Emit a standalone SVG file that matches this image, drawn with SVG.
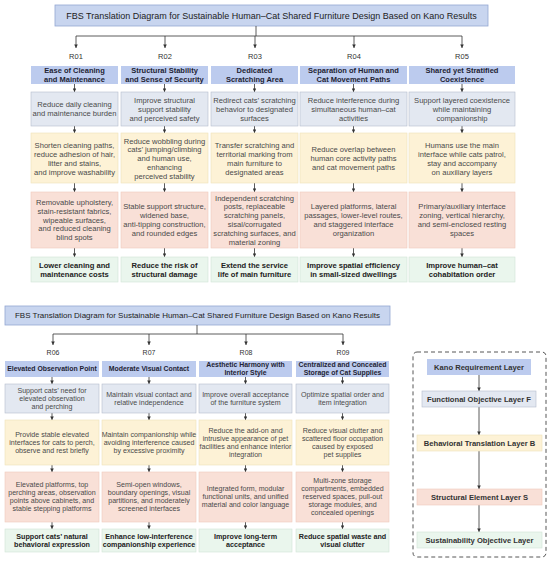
<svg xmlns="http://www.w3.org/2000/svg" width="550" height="561" viewBox="0 0 550 561">
<style>
text{font-family:"Liberation Sans",Arial,sans-serif;text-anchor:middle}
.ti{fill:#c8d5ef;stroke:#93a7d3;stroke-width:0.8}
.hd{fill:#bccbee}
.fn{fill:#e3e8f1;stroke:#b5bdcc;stroke-width:0.6}
.bh{fill:#fdf2d6;stroke:#efe1b8;stroke-width:0.6}
.st{fill:#f9e0d7;stroke:#efcabc;stroke-width:0.6}
.gr{fill:#eaf6ed;stroke:#cfe4d5;stroke-width:0.6}
.tt{font-size:9px;fill:#222}
.tt2{font-size:8px;fill:#222}
.rl{font-size:7.5px;fill:#333}
.rl2{font-size:7px;fill:#333}
.th{font-size:7.5px;font-weight:bold;fill:#1e2333}
.tb{font-size:7.6px;fill:#4a4a4a}
.tg{font-size:7.6px;font-weight:bold;fill:#222}
.bhx{font-size:6.9px;font-weight:bold;fill:#1e2333}
.bb{font-size:7.1px;fill:#4a4a4a}
.bg{font-size:7.2px;font-weight:bold;fill:#222}
.lg{font-size:7.6px;font-weight:bold;fill:#333}
.cn line,.cn path{stroke:#333;stroke-width:0.8;fill:none}
.ar{marker-end:url(#ah)}
</style>
<defs>
<marker id="ah" viewBox="0 0 6 6" refX="6" refY="3" markerWidth="3.6" markerHeight="3.6" orient="auto" markerUnits="userSpaceOnUse"><path d="M0,0 L6,3 L0,6 z" fill="#333"/></marker>
</defs>

<!-- ============ TOP DIAGRAM ============ -->
<g id="title-top"><rect class="ti" x="55" y="5" width="433" height="21"/><text class="tt" x="271.5" y="18.6">FBS Translation Diagram for Sustainable Human–Cat Shared Furniture Design Based on Kano Results</text></g>

<g id="connectors-top" class="cn">
<line x1="256" y1="26" x2="256" y2="36"/>
<line x1="76" y1="36" x2="462" y2="36"/>
<line class="ar" x1="76" y1="36" x2="76" y2="48"/>
<line class="ar" x1="165" y1="36" x2="165" y2="48"/>
<line class="ar" x1="255" y1="36" x2="255" y2="48"/>
<line class="ar" x1="354" y1="36" x2="354" y2="48"/>
<line class="ar" x1="462" y1="36" x2="462" y2="48"/>
<line class="ar" x1="74.5" y1="84" x2="74.5" y2="92"/><line class="ar" x1="74.5" y1="126" x2="74.5" y2="133"/><line class="ar" x1="74.5" y1="183" x2="74.5" y2="192"/><line class="ar" x1="74.5" y1="248" x2="74.5" y2="257"/>
<line class="ar" x1="164.5" y1="84" x2="164.5" y2="92"/><line class="ar" x1="164.5" y1="126" x2="164.5" y2="133"/><line class="ar" x1="164.5" y1="183" x2="164.5" y2="192"/><line class="ar" x1="164.5" y1="248" x2="164.5" y2="257"/>
<line class="ar" x1="254.5" y1="84" x2="254.5" y2="92"/><line class="ar" x1="254.5" y1="126" x2="254.5" y2="133"/><line class="ar" x1="254.5" y1="183" x2="254.5" y2="192"/><line class="ar" x1="254.5" y1="248" x2="254.5" y2="257"/>
<line class="ar" x1="353.5" y1="84" x2="353.5" y2="92"/><line class="ar" x1="353.5" y1="126" x2="353.5" y2="133"/><line class="ar" x1="353.5" y1="183" x2="353.5" y2="192"/><line class="ar" x1="353.5" y1="248" x2="353.5" y2="257"/>
<line class="ar" x1="462" y1="84" x2="462" y2="92"/><line class="ar" x1="462" y1="126" x2="462" y2="133"/><line class="ar" x1="462" y1="183" x2="462" y2="192"/><line class="ar" x1="462" y1="248" x2="462" y2="257"/>
</g>

<g id="labels-top">
<text class="rl" x="76" y="59">R01</text>
<text class="rl" x="165" y="59">R02</text>
<text class="rl" x="255" y="59">R03</text>
<text class="rl" x="354" y="59">R04</text>
<text class="rl" x="462" y="59">R05</text>
</g>

<!-- R01 -->
<g id="r01-h"><rect class="hd" x="31" y="66" width="87" height="18"/><text class="th"><tspan x="74.5" y="73.4">Ease of Cleaning</tspan><tspan x="74.5" y="82.4">and Maintenance</tspan></text></g>
<g id="r01-f"><rect class="fn" x="31" y="92" width="87" height="34"/><text class="tb"><tspan x="74.5" y="107.1">Reduce daily cleaning</tspan><tspan x="74.5" y="116.1">and maintenance burden</tspan></text></g>
<g id="r01-b"><rect class="bh" x="31" y="133" width="87" height="50"/><text class="tb"><tspan x="74.5" y="148.4">Shorten cleaning paths,</tspan><tspan x="74.5" y="157.2">reduce adhesion of hair,</tspan><tspan x="74.5" y="166">litter and stains,</tspan><tspan x="74.5" y="174.8">and improve washability</tspan></text></g>
<g id="r01-s"><rect class="st" x="31" y="192" width="87" height="56"/><text class="tb"><tspan x="74.5" y="205">Removable upholstery,</tspan><tspan x="74.5" y="213.8">stain-resistant fabrics,</tspan><tspan x="74.5" y="222.6">wipeable surfaces,</tspan><tspan x="74.5" y="231.4">and reduced cleaning</tspan><tspan x="74.5" y="240.2">blind spots</tspan></text></g>
<g id="r01-g"><rect class="gr" x="31" y="257" width="87" height="25"/><text class="tg"><tspan x="74.5" y="267.6">Lower cleaning and</tspan><tspan x="74.5" y="276.6">maintenance costs</tspan></text></g>

<!-- R02 -->
<g id="r02-h"><rect class="hd" x="121" y="66" width="87" height="18"/><text class="th"><tspan x="164.5" y="73.4">Structural Stability</tspan><tspan x="164.5" y="82.4">and Sense of Security</tspan></text></g>
<g id="r02-f"><rect class="fn" x="121" y="92" width="87" height="34"/><text class="tb"><tspan x="164.5" y="102.6">Improve structural</tspan><tspan x="164.5" y="111.6">support stability</tspan><tspan x="164.5" y="120.6">and perceived safety</tspan></text></g>
<g id="r02-b"><rect class="bh" x="121" y="133" width="87" height="50"/><text class="tb"><tspan x="164.5" y="143.5">Reduce wobbling during</tspan><tspan x="164.5" y="152.3">cats’ jumping/climbing</tspan><tspan x="164.5" y="161.1">and human use,</tspan><tspan x="164.5" y="169.9">enhancing</tspan><tspan x="164.5" y="178.7">perceived stability</tspan></text></g>
<g id="r02-s"><rect class="st" x="121" y="192" width="87" height="56"/><text class="tb"><tspan x="164.5" y="209.4">Stable support structure,</tspan><tspan x="164.5" y="218.2">widened base,</tspan><tspan x="164.5" y="227">anti-tipping construction,</tspan><tspan x="164.5" y="235.8">and rounded edges</tspan></text></g>
<g id="r02-g"><rect class="gr" x="121" y="257" width="87" height="25"/><text class="tg"><tspan x="164.5" y="267.6">Reduce the risk of</tspan><tspan x="164.5" y="276.6">structural damage</tspan></text></g>

<!-- R03 -->
<g id="r03-h"><rect class="hd" x="211" y="66" width="87" height="18"/><text class="th"><tspan x="254.5" y="73.4">Dedicated</tspan><tspan x="254.5" y="82.4">Scratching Area</tspan></text></g>
<g id="r03-f"><rect class="fn" x="211" y="92" width="87" height="34"/><text class="tb"><tspan x="254.5" y="102.6">Redirect cats’ scratching</tspan><tspan x="254.5" y="111.6">behavior to designated</tspan><tspan x="254.5" y="120.6">surfaces</tspan></text></g>
<g id="r03-b"><rect class="bh" x="211" y="133" width="87" height="50"/><text class="tb"><tspan x="254.5" y="148.4">Transfer scratching and</tspan><tspan x="254.5" y="157.2">territorial marking from</tspan><tspan x="254.5" y="166">main furniture to</tspan><tspan x="254.5" y="174.8">designated areas</tspan></text></g>
<g id="r03-s"><rect class="st" x="211" y="192" width="87" height="56"/><text class="tb"><tspan x="254.5" y="200.6">Independent scratching</tspan><tspan x="254.5" y="209.4">posts, replaceable</tspan><tspan x="254.5" y="218.2">scratching panels,</tspan><tspan x="254.5" y="227">sisal/corrugated</tspan><tspan x="254.5" y="235.8">scratching surfaces, and</tspan><tspan x="254.5" y="244.6">material zoning</tspan></text></g>
<g id="r03-g"><rect class="gr" x="211" y="257" width="87" height="25"/><text class="tg"><tspan x="254.5" y="267.6">Extend the service</tspan><tspan x="254.5" y="276.6">life of main furniture</tspan></text></g>

<!-- R04 -->
<g id="r04-h"><rect class="hd" x="300" y="66" width="107" height="18"/><text class="th"><tspan x="353.5" y="73.4">Separation of Human and</tspan><tspan x="353.5" y="82.4">Cat Movement Paths</tspan></text></g>
<g id="r04-f"><rect class="fn" x="300" y="92" width="107" height="34"/><text class="tb"><tspan x="353.5" y="102.6">Reduce interference during</tspan><tspan x="353.5" y="111.6">simultaneous human–cat</tspan><tspan x="353.5" y="120.6">activities</tspan></text></g>
<g id="r04-b"><rect class="bh" x="300" y="133" width="107" height="50"/><text class="tb"><tspan x="353.5" y="152.3">Reduce overlap between</tspan><tspan x="353.5" y="161.1">human core activity paths</tspan><tspan x="353.5" y="169.9">and cat movement paths</tspan></text></g>
<g id="r04-s"><rect class="st" x="300" y="192" width="107" height="56"/><text class="tb"><tspan x="353.5" y="209.4">Layered platforms, lateral</tspan><tspan x="353.5" y="218.2">passages, lower-level routes,</tspan><tspan x="353.5" y="227">and staggered interface</tspan><tspan x="353.5" y="235.8">organization</tspan></text></g>
<g id="r04-g"><rect class="gr" x="300" y="257" width="107" height="25"/><text class="tg"><tspan x="353.5" y="267.6">Improve spatial efficiency</tspan><tspan x="353.5" y="276.6">in small-sized dwellings</tspan></text></g>

<!-- R05 -->
<g id="r05-h"><rect class="hd" x="409" y="66" width="106" height="18"/><text class="th"><tspan x="462" y="73.4">Shared yet Stratified</tspan><tspan x="462" y="82.4">Coexistence</tspan></text></g>
<g id="r05-f"><rect class="fn" x="409" y="92" width="106" height="34"/><text class="tb"><tspan x="462" y="102.6">Support layered coexistence</tspan><tspan x="462" y="111.6">while maintaining</tspan><tspan x="462" y="120.6">companionship</tspan></text></g>
<g id="r05-b"><rect class="bh" x="409" y="133" width="106" height="50"/><text class="tb"><tspan x="462" y="148.4">Humans use the main</tspan><tspan x="462" y="157.2">interface while cats patrol,</tspan><tspan x="462" y="166">stay and accompany</tspan><tspan x="462" y="174.8">on auxiliary layers</tspan></text></g>
<g id="r05-s"><rect class="st" x="409" y="192" width="106" height="56"/><text class="tb"><tspan x="462" y="209.4">Primary/auxiliary interface</tspan><tspan x="462" y="218.2">zoning, vertical hierarchy,</tspan><tspan x="462" y="227">and semi-enclosed resting</tspan><tspan x="462" y="235.8">spaces</tspan></text></g>
<g id="r05-g"><rect class="gr" x="409" y="257" width="106" height="25"/><text class="tg"><tspan x="462" y="267.6">Improve human–cat</tspan><tspan x="462" y="276.6">cohabitation order</tspan></text></g>

<!-- ============ BOTTOM DIAGRAM ============ -->
<g id="title-bottom"><rect class="ti" x="5" y="306" width="385" height="19"/><text class="tt2" x="197.5" y="318.3">FBS Translation Diagram for Sustainable Human–Cat Shared Furniture Design Based on Kano Results</text></g>

<g id="connectors-bottom" class="cn">
<line x1="197" y1="325" x2="197" y2="334"/>
<line x1="53" y1="334" x2="343" y2="334"/>
<line class="ar" x1="53" y1="334" x2="53" y2="345"/>
<line class="ar" x1="149" y1="334" x2="149" y2="345"/>
<line class="ar" x1="246" y1="334" x2="246" y2="345"/>
<line class="ar" x1="343" y1="334" x2="343" y2="345"/>
<line class="ar" x1="52" y1="377" x2="52" y2="384"/><line class="ar" x1="52" y1="413" x2="52" y2="420"/><line class="ar" x1="52" y1="465" x2="52" y2="472"/><line class="ar" x1="52" y1="522" x2="52" y2="529"/>
<line class="ar" x1="149" y1="377" x2="149" y2="384"/><line class="ar" x1="149" y1="413" x2="149" y2="420"/><line class="ar" x1="149" y1="465" x2="149" y2="472"/><line class="ar" x1="149" y1="522" x2="149" y2="529"/>
<line class="ar" x1="245.5" y1="377" x2="245.5" y2="384"/><line class="ar" x1="245.5" y1="413" x2="245.5" y2="420"/><line class="ar" x1="245.5" y1="465" x2="245.5" y2="472"/><line class="ar" x1="245.5" y1="522" x2="245.5" y2="529"/>
<line class="ar" x1="342.5" y1="377" x2="342.5" y2="384"/><line class="ar" x1="342.5" y1="413" x2="342.5" y2="420"/><line class="ar" x1="342.5" y1="465" x2="342.5" y2="472"/><line class="ar" x1="342.5" y1="522" x2="342.5" y2="529"/>
<line class="ar" x1="479" y1="375" x2="479" y2="391"/>
<line class="ar" x1="479" y1="407" x2="479" y2="435"/>
<line class="ar" x1="479" y1="451" x2="479" y2="489"/>
<line class="ar" x1="479" y1="505" x2="479" y2="532"/>
</g>

<g id="labels-bottom">
<text class="rl2" x="53" y="354.5">R06</text>
<text class="rl2" x="149" y="354.5">R07</text>
<text class="rl2" x="246" y="354.5">R08</text>
<text class="rl2" x="343" y="354.5">R09</text>
</g>

<!-- R06 -->
<g id="r06-h"><rect class="hd" x="5" y="361" width="94" height="16"/><text class="bhx" x="52" y="371.4">Elevated Observation Point</text></g>
<g id="r06-f"><rect class="fn" x="5" y="384" width="94" height="29"/><text class="bb"><tspan x="52" y="392.9">Support cats’ need for</tspan><tspan x="52" y="400.9">elevated observation</tspan><tspan x="52" y="408.9">and perching</tspan></text></g>
<g id="r06-b"><rect class="bh" x="5" y="420" width="94" height="45"/><text class="bb"><tspan x="52" y="436.9">Provide stable elevated</tspan><tspan x="52" y="444.9">interfaces for cats to perch,</tspan><tspan x="52" y="452.9">observe and rest briefly</tspan></text></g>
<g id="r06-s"><rect class="st" x="5" y="472" width="94" height="50"/><text class="bb"><tspan x="52" y="487.4">Elevated platforms, top</tspan><tspan x="52" y="495.4">perching areas, observation</tspan><tspan x="52" y="503.4">points above cabinets, and</tspan><tspan x="52" y="511.4">stable stepping platforms</tspan></text></g>
<g id="r06-g"><rect class="gr" x="5" y="529" width="94" height="23"/><text class="bg"><tspan x="52" y="539">Support cats’ natural</tspan><tspan x="52" y="547.2">behavioral expression</tspan></text></g>

<!-- R07 -->
<g id="r07-h"><rect class="hd" x="102" y="361" width="94" height="16"/><text class="bhx" x="149" y="371.4">Moderate Visual Contact</text></g>
<g id="r07-f"><rect class="fn" x="102" y="384" width="94" height="29"/><text class="bb"><tspan x="149" y="396.9">Maintain visual contact and</tspan><tspan x="149" y="404.9">relative independence</tspan></text></g>
<g id="r07-b"><rect class="bh" x="102" y="420" width="94" height="45"/><text class="bb"><tspan x="149" y="436.9">Maintain companionship while</tspan><tspan x="149" y="444.9">avoiding interference caused</tspan><tspan x="149" y="452.9">by excessive proximity</tspan></text></g>
<g id="r07-s"><rect class="st" x="102" y="472" width="94" height="50"/><text class="bb"><tspan x="149" y="487.4">Semi-open windows,</tspan><tspan x="149" y="495.4">boundary openings, visual</tspan><tspan x="149" y="503.4">partitions, and moderately</tspan><tspan x="149" y="511.4">screened interfaces</tspan></text></g>
<g id="r07-g"><rect class="gr" x="102" y="529" width="94" height="23"/><text class="bg"><tspan x="149" y="539">Enhance low-interference</tspan><tspan x="149" y="547.2">companionship experience</tspan></text></g>

<!-- R08 -->
<g id="r08-h"><rect class="hd" x="199" y="361" width="93" height="16"/><text class="bhx"><tspan x="245.5" y="366.6">Aesthetic Harmony with</tspan><tspan x="245.5" y="374.6">Interior Style</tspan></text></g>
<g id="r08-f"><rect class="fn" x="199" y="384" width="93" height="29"/><text class="bb"><tspan x="245.5" y="396.9">Improve overall acceptance</tspan><tspan x="245.5" y="404.9">of the furniture system</tspan></text></g>
<g id="r08-b"><rect class="bh" x="199" y="420" width="93" height="45"/><text class="bb"><tspan x="245.5" y="432.9">Reduce the add-on and</tspan><tspan x="245.5" y="440.9">intrusive appearance of pet</tspan><tspan x="245.5" y="448.9">facilities and enhance interior</tspan><tspan x="245.5" y="456.9">integration</tspan></text></g>
<g id="r08-s"><rect class="st" x="199" y="472" width="93" height="50"/><text class="bb"><tspan x="245.5" y="491.4">Integrated form, modular</tspan><tspan x="245.5" y="499.4">functional units, and unified</tspan><tspan x="245.5" y="507.4">material and color language</tspan></text></g>
<g id="r08-g"><rect class="gr" x="199" y="529" width="93" height="23"/><text class="bg"><tspan x="245.5" y="539">Improve long-term</tspan><tspan x="245.5" y="547.2">acceptance</tspan></text></g>

<!-- R09 -->
<g id="r09-h"><rect class="hd" x="296" y="361" width="93" height="16"/><text class="bhx"><tspan x="342.5" y="366.6">Centralized and Concealed</tspan><tspan x="342.5" y="374.6">Storage of Cat Supplies</tspan></text></g>
<g id="r09-f"><rect class="fn" x="296" y="384" width="93" height="29"/><text class="bb"><tspan x="342.5" y="396.9">Optimize spatial order and</tspan><tspan x="342.5" y="404.9">item integration</tspan></text></g>
<g id="r09-b"><rect class="bh" x="296" y="420" width="93" height="45"/><text class="bb"><tspan x="342.5" y="432.9">Reduce visual clutter and</tspan><tspan x="342.5" y="440.9">scattered floor occupation</tspan><tspan x="342.5" y="448.9">caused by exposed</tspan><tspan x="342.5" y="456.9">pet supplies</tspan></text></g>
<g id="r09-s"><rect class="st" x="296" y="472" width="93" height="50"/><text class="bb"><tspan x="342.5" y="483.4">Multi-zone storage</tspan><tspan x="342.5" y="491.4">compartments, embedded</tspan><tspan x="342.5" y="499.4">reserved spaces, pull-out</tspan><tspan x="342.5" y="507.4">storage modules, and</tspan><tspan x="342.5" y="515.4">concealed openings</tspan></text></g>
<g id="r09-g"><rect class="gr" x="296" y="529" width="93" height="23"/><text class="bg"><tspan x="342.5" y="539">Reduce spatial waste and</tspan><tspan x="342.5" y="547.2">visual clutter</tspan></text></g>

<!-- Legend -->
<g id="legend-frame"><rect x="413" y="352" width="133" height="205" rx="4" fill="none" stroke="#444" stroke-width="0.9" stroke-dasharray="4,3"/></g>
<g id="lg-kano"><rect class="hd" x="427" y="359" width="104" height="16"/><text class="lg" x="479" y="369.7">Kano Requirement Layer</text></g>
<g id="lg-f"><rect class="fn" x="422" y="391" width="114" height="16"/><text class="lg" x="479" y="401.7">Functional Objective Layer F</text></g>
<g id="lg-b"><rect class="bh" x="417" y="435" width="125" height="16"/><text class="lg" x="479.5" y="445.7">Behavioral Translation Layer B</text></g>
<g id="lg-s"><rect class="st" x="417" y="489" width="125" height="16"/><text class="lg" x="479.5" y="499.7">Structural Element Layer S</text></g>
<g id="lg-g"><rect class="gr" x="417" y="532" width="125" height="16"/><text class="lg" x="479.5" y="542.7">Sustainability Objective Layer</text></g>
</svg>
